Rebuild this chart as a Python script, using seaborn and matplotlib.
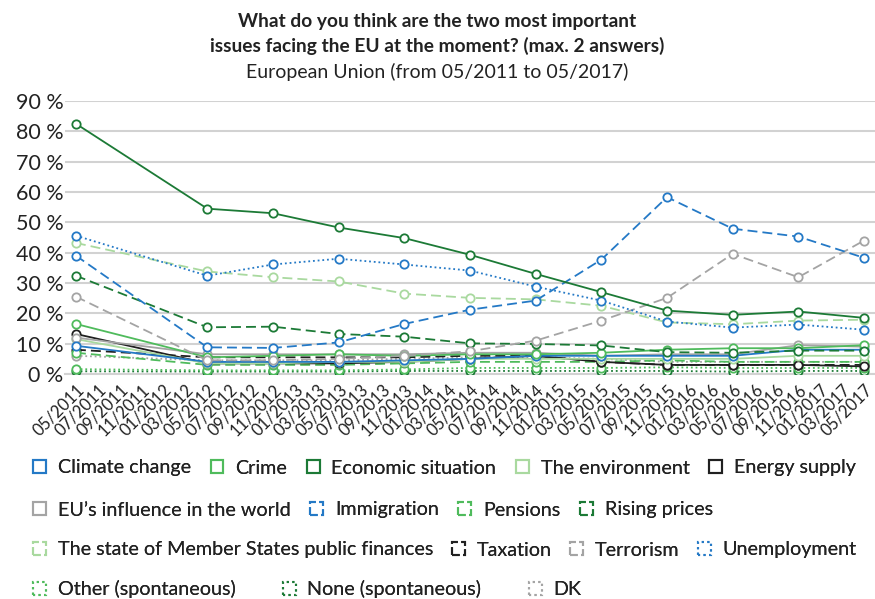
import matplotlib
matplotlib.use("Agg")
import matplotlib.pyplot as plt
from matplotlib.patches import Rectangle
import seaborn as sns
import numpy as np

# ---------------- data ----------------
categories = ["05/2011", "07/2011", "09/2011", "11/2011", "01/2012", "03/2012", "05/2012",
              "07/2012", "09/2012", "11/2012", "01/2013", "03/2013", "05/2013", "07/2013",
              "09/2013", "11/2013", "01/2014", "03/2014", "05/2014", "07/2014", "09/2014",
              "11/2014", "01/2015", "03/2015", "05/2015", "07/2015", "09/2015", "11/2015",
              "01/2016", "03/2016", "05/2016", "07/2016", "09/2016", "11/2016", "01/2017",
              "03/2017", "05/2017"]
survey_dates = ["05/2011", "05/2012", "11/2012", "05/2013", "11/2013", "05/2014",
                "11/2014", "05/2015", "11/2015", "05/2016", "11/2016", "05/2017"]
yticks = [0, 10, 20, 30, 40, 50, 60, 70, 80, 90]
ytick_labels = ["0 %", "10 %", "20 %", "30 %", "40 %", "50 %", "60 %", "70 %", "80 %", "90 %"]

series_names = ["Climate change", "Crime", "Economic situation", "The environment", "Energy supply",
                "EU\u2019s influence in the world", "Immigration", "Pensions", "Rising prices",
                "The state of Member States public finances", "Taxation", "Terrorism",
                "Unemployment", "Other (spontaneous)", "None (spontaneous)", "DK"]

climate_change = [9.3, 4.0, 4.0, 4.0, 4.5, 5.0, 6.0, 6.0, 6.0, 6.0, 8.0, 8.0]
crime = [16.5, 5.5, 6.0, 6.5, 6.0, 6.5, 6.5, 7.0, 8.0, 8.5, 8.5, 9.5]
economic_situation = [82.5, 54.5, 53.0, 48.3, 44.8, 39.3, 33.0, 27.0, 20.9, 19.5, 20.6, 18.5]
environment = [11.5, 3.5, 3.5, 4.0, 4.0, 5.0, 5.0, 5.0, 5.0, 5.0, 6.0, 6.0]
energy_supply = [13.2, 3.5, 3.5, 3.5, 4.0, 5.0, 6.0, 4.0, 3.0, 3.0, 3.0, 2.5]
eu_influence = [12.0, 6.5, 6.5, 6.5, 6.5, 7.0, 7.0, 6.0, 6.5, 6.5, 9.5, 9.0]
immigration = [39.0, 8.8, 8.6, 10.4, 16.5, 21.2, 24.2, 37.7, 58.3, 47.9, 45.3, 38.3]
pensions = [7.0, 3.0, 3.0, 3.0, 3.5, 4.0, 4.0, 4.0, 4.5, 4.0, 4.0, 4.0]
rising_prices = [32.4, 15.4, 15.6, 13.2, 12.3, 10.1, 9.9, 9.4, 7.2, 7.0, 7.7, 7.7]
public_finances = [43.2, 33.8, 31.9, 30.5, 26.5, 25.1, 24.6, 22.5, 17.0, 16.4, 17.6, 17.9]
taxation = [8.0, 5.5, 5.5, 5.5, 5.5, 6.0, 6.0, 4.0, 3.0, 3.0, 3.0, 3.0]
terrorism = [25.5, 4.5, 4.5, 5.0, 6.0, 7.5, 11.0, 17.6, 25.1, 39.6, 31.9, 44.0]
unemployment = [45.6, 32.4, 36.1, 38.0, 36.1, 34.1, 28.8, 24.2, 17.3, 15.3, 16.3, 14.6]
other_spont = [1.6, 1.2, 1.2, 1.2, 1.5, 2.0, 2.0, 2.0, 2.2, 2.0, 2.0, 2.0]
none_spont = [0.9, 0.8, 0.8, 0.8, 1.0, 1.0, 1.0, 1.0, 1.0, 0.8, 1.0, 1.0]
dk = [6.0, 4.5, 4.5, 4.5, 5.0, 5.5, 5.5, 5.0, 4.0, 4.0, 4.0, 4.0]

all_values = [climate_change, crime, economic_situation, environment, energy_supply, eu_influence,
              immigration, pensions, rising_prices, public_finances, taxation, terrorism,
              unemployment, other_spont, none_spont, dk]

# ---------------- styles ----------------
BLUE = "#2479c6"
GREEN = "#4fbb5c"
DKGREEN = "#1c7a36"
LTGREEN = "#a9d99f"
BLACK = "#202020"
GREY = "#a4a4a4"
colors = [BLUE, GREEN, DKGREEN, LTGREEN, BLACK, GREY] * 2 + [BLUE, GREEN, DKGREEN, GREY]
SOLID = "-"
DASH = (0, (5.5, 2.8))
DOT = (0, (1.0, 1.6))
styles = [SOLID] * 6 + [DASH] * 6 + [DOT] * 4
leg_styles = ["-"] * 6 + ["--"] * 6 + [":"] * 4

sns.set_theme(style="white")
plt.rcParams["font.family"] = ["Lato", "DejaVu Sans"]
plt.rcParams["text.color"] = "#222222"

fig = plt.figure(figsize=(8.75, 5.99), dpi=100)
ax = fig.add_axes([65 / 875, 1 - 374 / 599, 1 - 65 / 875, (374 - 101) / 599])

xpos = [categories.index(d) for d in survey_dates]

for i in [15, 14, 13, 10, 7, 4, 3, 5, 0, 1, 9, 8, 11, 6, 12, 2]:
    sns.lineplot(x=xpos, y=all_values[i], ax=ax, color=colors[i], linestyle=styles[i],
                 linewidth=1.3, marker="o", markersize=6, markerfacecolor="white",
                 markeredgecolor=colors[i], markeredgewidth=1.3, legend=False, zorder=3)

ax.set_xlim(-0.5, 36.3)
ax.set_ylim(0, 90)
ax.set_yticks(yticks)
ax.set_yticklabels(ytick_labels, fontsize=15.5, color="#222222")
ax.set_xticks(range(len(categories)))
ax.set_xticklabels(categories, rotation=45, ha="right", rotation_mode="anchor",
                   fontsize=12, color="#222222")
ax.set_xticks(np.arange(len(categories)) + 0.5, minor=True)
ax.tick_params(axis="x", which="major", length=0, pad=5)
ax.tick_params(axis="x", which="minor", length=4, color="#c8c8c8", width=1)
ax.tick_params(axis="y", length=0, pad=1)
ax.grid(axis="y", color="#d2d2d2", linewidth=1.5, zorder=0)
ax.set_axisbelow(True)
for s in ["top", "right", "left"]:
    ax.spines[s].set_visible(False)
ax.spines["bottom"].set_color("#d2d2d2")
ax.spines["bottom"].set_linewidth(1.5)
ax.set_xlabel("")
ax.set_ylabel("")

fig.text(0.5, 1 - 22 / 599, "What do you think are the two most important",
         ha="center", va="center", fontsize=13.8, fontweight="bold")
fig.text(0.5, 1 - 46 / 599, "issues facing the EU at the moment? (max. 2 answers)",
         ha="center", va="center", fontsize=13.8, fontweight="bold")
fig.text(0.5, 1 - 72 / 599, "European Union (from 05/2011 to 05/2017)",
         ha="center", va="center", fontsize=14)

# ---------------- legend ----------------
handles = [Rectangle((0, 0), 1, 1, facecolor="none", edgecolor=colors[i],
                     linestyle=leg_styles[i], linewidth=1.5) for i in range(16)]
rows = [(list(range(0, 5)), 468, 1.0), (list(range(5, 9)), 510, 1.0),
        (list(range(9, 13)), 550, 0.95), (list(range(13, 16)), 589, 2.4)]
for idx, ypx, cs in rows:
    lg = fig.legend([handles[i] for i in idx], [series_names[i] for i in idx],
                    loc="center left", bbox_to_anchor=(33 / 875, 1 - ypx / 599),
                    ncol=len(idx), frameon=False, fontsize=14.2, handlelength=0.65,
                    handleheight=0.65, handletextpad=0.6, columnspacing=cs,
                    borderpad=0, borderaxespad=0)
    fig.add_artist(lg)

fig.savefig("out.png", dpi=100)
